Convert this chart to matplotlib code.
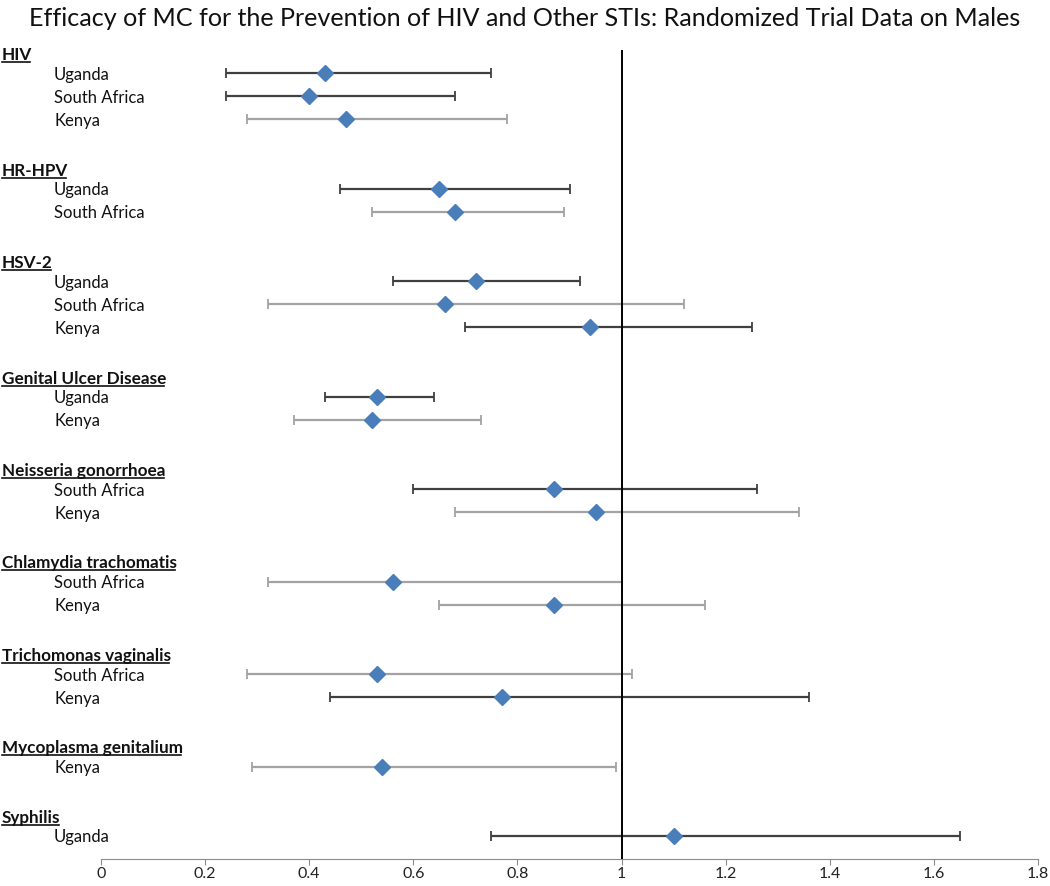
import matplotlib
matplotlib.use("Agg")
import matplotlib.pyplot as plt
from matplotlib.lines import Line2D
from matplotlib.transforms import blended_transform_factory

plt.rcParams['font.family'] = ['Lato', 'DejaVu Sans']

# Groups (outcomes) and the trials under each
groups = ['HIV', 'HR-HPV', 'HSV-2', 'Genital Ulcer Disease', 'Neisseria gonorrhoea',
          'Chlamydia trachomatis', 'Trichomonas vaginalis', 'Mycoplasma genitalium', 'Syphilis']
group_sites = [
    ['Uganda', 'South Africa', 'Kenya'],
    ['Uganda', 'South Africa'],
    ['Uganda', 'South Africa', 'Kenya'],
    ['Uganda', 'Kenya'],
    ['South Africa', 'Kenya'],
    ['South Africa', 'Kenya'],
    ['South Africa', 'Kenya'],
    ['Kenya'],
    ['Uganda'],
]

# Relative risk and 95% CI, in the same order as the sites above
rr =      [0.43, 0.40, 0.47, 0.65, 0.68, 0.72, 0.66, 0.94, 0.53, 0.52,
           0.87, 0.95, 0.56, 0.87, 0.53, 0.77, 0.54, 1.10]
ci_low =  [0.24, 0.24, 0.28, 0.46, 0.52, 0.56, 0.32, 0.70, 0.43, 0.37,
           0.60, 0.68, 0.32, 0.65, 0.28, 0.44, 0.29, 0.75]
ci_high = [0.75, 0.68, 0.78, 0.90, 0.89, 0.92, 1.12, 1.25, 0.64, 0.73,
           1.26, 1.34, 1.00, 1.16, 1.02, 1.36, 0.99, 1.65]
# error bar shade in the original (True = dark, False = light gray)
dark_bar = [True, True, False, True, False, True, False, True, True, False,
            True, False, False, False, False, True, False, True]

x_ticks = [0, 0.2, 0.4, 0.6, 0.8, 1, 1.2, 1.4, 1.6, 1.8]
x_tick_labels = ['0', '0.2', '0.4', '0.6', '0.8', '1', '1.2', '1.4', '1.6', '1.8']

W, H = 1050, 886
fig = plt.figure(figsize=(W / 100, H / 100), dpi=100)
ax = fig.add_axes([101 / W, 1 - 859 / H, (1038 - 101) / W, (859 - 50) / H])

# lay out rows: header, sites, blank
header_rows = []
site_rows = []
site_names = []
row = 0
for g, sites in zip(groups, group_sites):
    header_rows.append(row)
    row += 1
    for s in sites:
        site_rows.append(row)
        site_names.append(s)
        row += 1
    row += 1

dark = '#404040'
light = '#a3a3a3'
for i in range(len(rr)):
    c = dark if dark_bar[i] else light
    ax.errorbar(rr[i], site_rows[i],
                xerr=[[rr[i] - ci_low[i]], [ci_high[i] - rr[i]]],
                fmt='none', ecolor=c, elinewidth=1.6, capsize=3.5, capthick=1.3, zorder=2)

ax.axvline(1, color='black', lw=1.4, zorder=3)
ax.plot(rr, site_rows, linestyle='none', marker='D', markersize=8.5,
        color='#4a7ebb', zorder=4)

ax.set_xlim(0, 1.8)
ax.set_ylim(35, 0)
ax.set_xticks(x_ticks)
ax.set_xticklabels(x_tick_labels)
ax.set_yticks([])
for s in ['left', 'right', 'top']:
    ax.spines[s].set_visible(False)
ax.spines['bottom'].set_color('#8c8c8c')
ax.tick_params(axis='x', direction='out', length=4, color='#8c8c8c',
               labelsize=11.5, labelcolor='#222222', pad=1.5)
ax.patch.set_alpha(0)

trans = blended_transform_factory(fig.transFigure, ax.transData)
header_texts = []
for g, r in zip(groups, header_rows):
    t = fig.text(2 / W, r + 0.43, g, transform=trans, ha='left', va='baseline',
                 fontsize=12.3, fontweight='bold', color='#111111')
    header_texts.append(t)
for s, r in zip(site_names, site_rows):
    fig.text(54 / W, r + 0.285, s, transform=trans, ha='left', va='baseline',
             fontsize=12, color='#111111')

fig.text(0.5, 1 - 18 / H, 'Efficacy of MC for the Prevention of HIV and Other STIs: Randomized Trial Data on Males',
         ha='center', va='center', fontsize=18.1, color='#111111')

# underline the group headers
fig.canvas.draw()
renderer = fig.canvas.get_renderer()
inv = fig.transFigure.inverted()
for t, r in zip(header_texts, header_rows):
    bb = t.get_window_extent(renderer)
    base_y = trans.transform((0, r + 0.43))[1]
    (x0, y0), (x1, _) = inv.transform([(bb.x0, base_y - 2), (bb.x1 - 2, base_y - 2)])
    fig.add_artist(Line2D([x0, x1], [y0, y0], transform=fig.transFigure,
                          color='#111111', lw=1.2))

fig.savefig('out.png', dpi=100)
